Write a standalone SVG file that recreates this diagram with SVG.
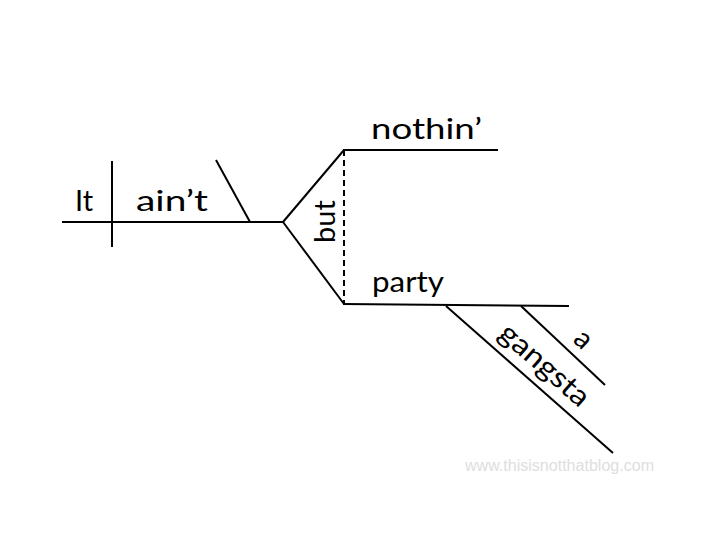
<svg xmlns="http://www.w3.org/2000/svg" width="720" height="540" viewBox="0 0 720 540">
<style>
.ln{stroke:#000;stroke-width:2;fill:none;stroke-linecap:butt}
.dash{stroke-dasharray:6 4}
.w{font-family:Lato,"Carlito","Liberation Sans",sans-serif;font-size:29px;fill:#000}
.wm{font-family:"Liberation Sans",Arial,sans-serif;font-size:16px;fill:#dedede}
</style>
<rect width="720" height="540" fill="#fff"/>
<g id="connectors">
<line class="ln" x1="62" y1="222" x2="283" y2="222"/>
<line class="ln" x1="112" y1="161" x2="112" y2="247"/>
<line class="ln" x1="216" y1="160" x2="250" y2="222"/>
<line class="ln" x1="283" y1="222" x2="344" y2="150"/>
<line class="ln" x1="283" y1="222" x2="344" y2="304"/>
<line class="ln dash" x1="344" y1="150" x2="344" y2="304"/>
<line class="ln" x1="343" y1="150" x2="498" y2="150"/>
<line class="ln" x1="343" y1="304" x2="569" y2="306"/>
<line class="ln" x1="446" y1="306" x2="613" y2="453"/>
<line class="ln" x1="521" y1="306" x2="605" y2="385"/>
</g>
<g id="node-it"><text class="w" x="75" y="211">It</text></g>
<g id="node-aint"><text class="w" x="136" y="211" textLength="72" lengthAdjust="spacingAndGlyphs">ain’t</text></g>
<g id="node-but"><text class="w" transform="translate(335,243) rotate(-90)" x="0" y="0">but</text></g>
<g id="node-nothin"><text class="w" x="371" y="139" textLength="111" lengthAdjust="spacingAndGlyphs">nothin’</text></g>
<g id="node-party"><text class="w" x="372" y="292" textLength="72" lengthAdjust="spacingAndGlyphs">party</text></g>
<g id="node-gangsta"><text class="w" transform="translate(497,336) rotate(41.2)" x="0" y="0" textLength="110" lengthAdjust="spacingAndGlyphs">gangsta</text></g>
<g id="node-a"><text class="w" transform="translate(572,341) rotate(43)" x="0" y="0">a</text></g>
<text class="wm" x="465" y="471" textLength="189" lengthAdjust="spacingAndGlyphs">www.thisisnotthatblog.com</text>
</svg>
